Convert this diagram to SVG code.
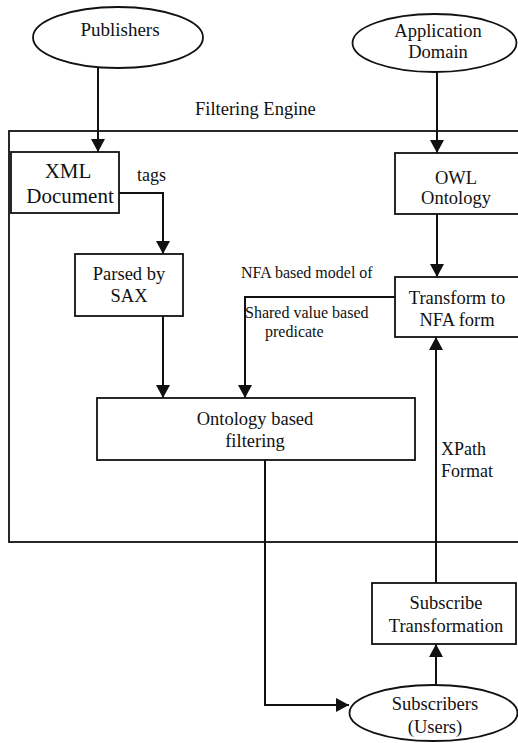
<svg xmlns="http://www.w3.org/2000/svg" width="518" height="743" viewBox="0 0 518 743" font-family="'Liberation Serif', 'Times New Roman', 'DejaVu Serif', serif">
<style>
text{font-family:'Liberation Serif','Times New Roman','DejaVu Serif',serif;fill:#111;}
.n{fill:#fff;stroke:#111;stroke-width:1.8;}
.c{fill:none;stroke:#111;stroke-width:2;marker-end:url(#ah);}
.t18{font-size:18.5px;text-anchor:middle;}
.lb{font-size:16px;}
</style>
<defs>
<marker id="ah" markerUnits="userSpaceOnUse" markerWidth="14" markerHeight="14" refX="13" refY="7" orient="auto">
<path d="M0,0 L13,7 L0,14 z" fill="#111"/>
</marker>
</defs>
<rect width="518" height="743" fill="#fff"/>
<g id="filtering-engine">
<rect class="n" x="9" y="131" width="520" height="411" fill="none"/>
<text x="195" y="115" style="font-size:18.5px">Filtering Engine</text>
</g>
<g id="publishers">
<ellipse class="n" cx="118" cy="37.5" rx="85" ry="30.5"/>
<text class="t18" x="120" y="36" style="font-size:19px">Publishers</text>
</g>
<g id="application-domain">
<ellipse class="n" cx="434.5" cy="43" rx="82" ry="29"/>
<text class="t18" x="438" y="37">Application</text>
<text class="t18" x="438" y="58">Domain</text>
</g>
<g id="xml-document">
<rect class="n" x="11" y="152" width="108" height="61"/>
<text class="t18" x="68" y="178" style="font-size:21px">XML</text>
<text class="t18" x="70" y="203" style="font-size:21px">Document</text>
</g>
<g id="owl-ontology">
<rect class="n" x="395" y="153" width="130" height="61"/>
<text class="t18" x="456" y="184">OWL</text>
<text class="t18" x="456" y="204">Ontology</text>
</g>
<g id="parsed-by-sax">
<rect class="n" x="75" y="254" width="108" height="62"/>
<text class="t18" x="129" y="280">Parsed by</text>
<text class="t18" x="129" y="302">SAX</text>
</g>
<g id="transform-nfa">
<rect class="n" x="395" y="277" width="130" height="60"/>
<text class="t18" x="457" y="304">Transform to</text>
<text class="t18" x="457" y="326">NFA form</text>
</g>
<g id="ontology-filtering">
<rect class="n" x="97" y="398" width="318" height="62"/>
<text class="t18" x="255" y="425">Ontology based</text>
<text class="t18" x="255" y="447">filtering</text>
</g>
<g id="subscribe-transformation">
<rect class="n" x="372" y="583" width="144" height="61"/>
<text class="t18" x="446" y="609">Subscribe</text>
<text class="t18" x="446" y="632">Transformation</text>
</g>
<g id="subscribers">
<ellipse class="n" cx="433.5" cy="713" rx="84" ry="28"/>
<text class="t18" x="435" y="710">Subscribers</text>
<text class="t18" x="435" y="733">(Users)</text>
</g>
<g id="connectors">
<path class="c" d="M98,68 V152"/>
<path class="c" d="M437,72 V153"/>
<path class="c" d="M119,193 H163 V254"/>
<path class="c" d="M437,214 V277"/>
<path class="c" d="M395,297 H245 V398"/>
<path class="c" d="M163,316 V398"/>
<path class="c" d="M265,460 V705 H349"/>
<path class="c" d="M436,685 V644"/>
<path class="c" d="M436,583 V337"/>
<text x="137" y="181" style="font-size:18px">tags</text>
<text class="lb" x="241" y="278">NFA based model of</text>
<text class="lb" x="245" y="318">Shared value based</text>
<text class="lb" x="265" y="337">predicate</text>
<text x="441" y="455" style="font-size:18px">XPath</text>
<text x="441" y="477" style="font-size:18px">Format</text>
</g>
</svg>
